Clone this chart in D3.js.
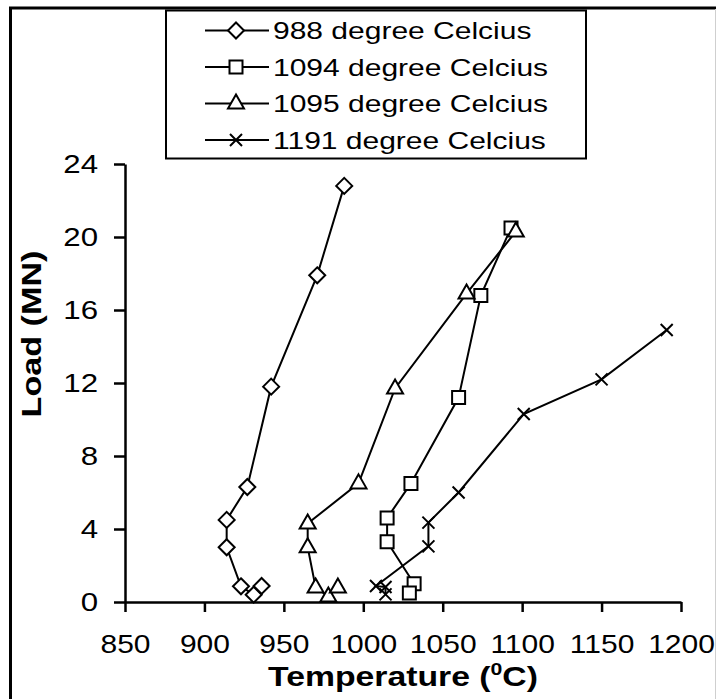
<!DOCTYPE html>
<meta charset="utf-8">
<html>
    <head>
        <style type="text/css">
            body { margin:0; background:#fff; }
            .graphText { font-family: "Liberation Sans", Arial, sans-serif; fill: #000; }
        </style>
        <script src="https://d3js.org/d3.v7.min.js"></script>
    </head>
    <body>
        <svg width="716" height="699"></svg>
        <script type="text/javascript">
            // series names and marker kinds
            var seriesNames = ["988 degree Celcius", "1094 degree Celcius", "1095 degree Celcius", "1191 degree Celcius"];
            var seriesMarkers = ["diamond", "square", "triangle", "cross"];

            // temperatures (x) and loads (y), in drawing order
            var temp988 = [988, 971, 942, 927, 914, 914, 923, 931, 936];
            var load988 = [22.8, 17.9, 11.8, 6.3, 4.5, 3.0, 0.86, 0.4, 0.88];

            var temp1094 = [1093, 1074, 1060, 1030, 1015, 1015, 1032, 1029];
            var load1094 = [20.5, 16.8, 11.2, 6.5, 4.6, 3.3, 1.0, 0.5];

            var temp1095 = [1096, 1065, 1020, 997, 965, 965, 970, 978, 984];
            var load1095 = [20.3, 16.9, 11.7, 6.5, 4.3, 3.0, 0.8, 0.3, 0.8];

            var temp1191 = [1191, 1150, 1101, 1060, 1041, 1041, 1008, 1014, 1014];
            var load1191 = [14.9, 12.2, 10.3, 6.0, 4.35, 3.05, 0.88, 0.82, 0.42];

            var xTicks = [850, 900, 950, 1000, 1050, 1100, 1150, 1200];
            var yTicks = [0, 4, 8, 12, 16, 20, 24];

            var temps = [temp988, temp1094, temp1095, temp1191];
            var loads = [load988, load1094, load1095, load1191];

            var margin = {top: 164, bottom: 97, left: 125, right: 35};
            var width = 716;
            var height = 699;
            var stretch = 1.25; // text in the picture is drawn wide

            var xScale = d3.scaleLinear()
                .domain([850, 1200])
                .range([margin.left, width - margin.right]);
            var yScale = d3.scaleLinear()
                .domain([0, 24])
                .range([height - margin.bottom, margin.top]);

            var svg = d3.select("svg");

            // frame round the whole picture (cropped at the bottom)
            svg.append("line").attr("x1", 9).attr("y1", 8).attr("x2", 716).attr("y2", 8)
                .style("stroke", "#000").style("stroke-width", 3);
            svg.append("line").attr("x1", 10.5).attr("y1", 7).attr("x2", 10.5).attr("y2", 699)
                .style("stroke", "#000").style("stroke-width", 3);
            svg.append("line").attr("x1", 715.5).attr("y1", 9).attr("x2", 715.5).attr("y2", 699)
                .style("stroke", "#cfcfcf").style("stroke-width", 1);

            function marker(kind) {
                if (kind === "diamond") return "M0,-8L8,0L0,8L-8,0Z";
                if (kind === "square") return "M-6.5,-6.5H6.5V6.5H-6.5Z";
                if (kind === "triangle") return "M0,-9L8,5L-8,5Z";
                return "M-6,-6L6,6M-6,6L6,-6";
            }

            // axes
            var xAxis = d3.axisBottom(xScale).tickValues(xTicks).tickFormat(d3.format("d"))
                .tickSize(10).tickSizeOuter(0).tickPadding(23);
            var yAxis = d3.axisLeft(yScale).tickValues(yTicks).tickFormat(d3.format("d"))
                .tickSize(11).tickSizeOuter(0).tickPadding(16);

            var gx = svg.append("g")
                .attr("class", "graphText")
                .attr("transform", "translate(" + [0, yScale(0)] + ")")
                .call(xAxis);
            var gy = svg.append("g")
                .attr("class", "graphText")
                .attr("transform", "translate(" + [xScale(850), 0] + ")")
                .call(yAxis);

            [gx, gy].forEach(g => {
                g.select(".domain").style("stroke", "#000").style("stroke-width", 2.5);
                g.selectAll(".tick line").style("stroke", "#000").style("stroke-width", 2.5);
                g.selectAll(".tick text")
                    .style("font-family", "Liberation Sans, Arial, sans-serif")
                    .style("font-size", "25px")
                    .attr("fill", "#000");
            });
            gx.selectAll(".tick text").attr("transform", "scale(1.2,1)");
            gy.selectAll(".tick text")
                .attr("x", -27 / stretch)
                .attr("transform", "scale(" + stretch + ",1)");

            // series lines and markers
            var line = d3.line()
                .x(d => xScale(d[0]))
                .y(d => yScale(d[1]));

            seriesNames.forEach((name, i) => {
                var pts = temps[i].map((t, j) => [t, loads[i][j]]);
                svg.append("path")
                    .attr("d", line(pts))
                    .attr("fill", "none")
                    .style("stroke", "#000")
                    .style("stroke-width", 2);
                svg.selectAll(".m" + i)
                    .data(pts)
                    .enter().append("path")
                    .attr("class", "m" + i)
                    .attr("transform", d => "translate(" + [xScale(d[0]), yScale(d[1])] + ")")
                    .attr("d", marker(seriesMarkers[i]))
                    .attr("fill", "#fff")
                    .style("stroke", "#000")
                    .style("stroke-width", 2);
            });

            // axis titles
            var xt = svg.append("text")
                .attr("class", "graphText")
                .attr("transform", "translate(" + [xScale(1025), 686] + ") scale(" + stretch + ",1)")
                .style("text-anchor", "middle")
                .style("font-size", "27px")
                .style("font-weight", "bold");
            xt.append("tspan").text("Temperature (");
            xt.append("tspan").attr("dy", -11).style("font-size", "17px").text("0");
            xt.append("tspan").attr("dy", 11).text("C)");

            svg.append("text")
                .attr("class", "graphText")
                .attr("transform", "translate(" + [41, 334] + ") rotate(-90) scale(1.22,1)")
                .style("text-anchor", "middle")
                .style("font-size", "28px")
                .style("font-weight", "bold")
                .text("Load (MN)");

            // legend
            var legend = svg.append("g");
            legend.append("rect")
                .attr("x", 166).attr("y", 10.5)
                .attr("width", 420).attr("height", 148)
                .attr("fill", "#fff")
                .style("stroke", "#000")
                .style("stroke-width", 2);

            var legendRow = d3.scaleLinear().domain([0, 3]).range([30.5, 140]);
            seriesNames.forEach((name, i) => {
                var y = legendRow(i);
                legend.append("line")
                    .attr("x1", 205).attr("x2", 269)
                    .attr("y1", y).attr("y2", y)
                    .style("stroke", "#000").style("stroke-width", 2);
                legend.append("path")
                    .attr("transform", "translate(" + [236, y] + ")")
                    .attr("d", marker(seriesMarkers[i]))
                    .attr("fill", "#fff")
                    .style("stroke", "#000").style("stroke-width", 2);
                legend.append("text")
                    .attr("class", "graphText")
                    .attr("transform", "translate(" + [273, y + 8.5] + ") scale(" + stretch + ",1)")
                    .style("font-size", "24px")
                    .text(name);
            });
        </script>
    </body>
</html>
